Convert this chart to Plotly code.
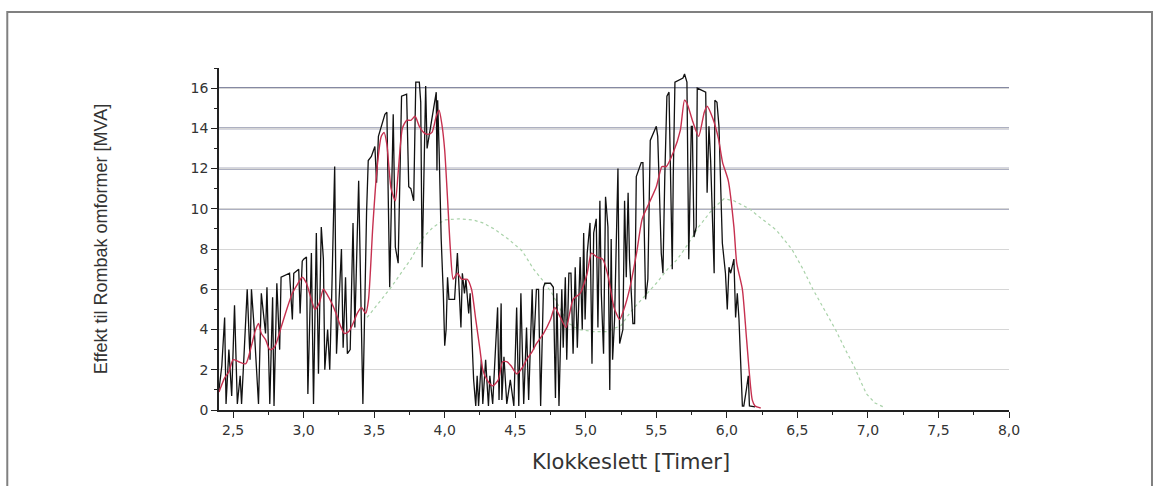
import plotly.graph_objects as go

# Measured apparent power (black), time in hours
t_meas = [2.40, 2.42, 2.44, 2.45, 2.47, 2.49, 2.51, 2.53, 2.55, 2.56, 2.58, 2.60, 2.62, 2.63, 2.65,
          2.68, 2.70, 2.73, 2.74, 2.76, 2.78, 2.79, 2.81, 2.83, 2.84, 2.90, 2.92, 2.93, 2.965, 2.975,
          2.99, 3.00, 3.02, 3.03, 3.045, 3.055, 3.07, 3.09, 3.105, 3.125, 3.14, 3.15, 3.17, 3.185, 3.20,
          3.22, 3.233, 3.25, 3.268, 3.28, 3.297, 3.31, 3.33, 3.35, 3.363, 3.39, 3.405, 3.42, 3.446, 3.458,
          3.48, 3.505, 3.517, 3.53, 3.576, 3.59, 3.61, 3.635, 3.65, 3.67, 3.694, 3.73, 3.745, 3.76, 3.78,
          3.795, 3.82, 3.83, 3.84, 3.855, 3.865, 3.875, 3.94, 3.945, 3.95, 3.96, 3.975, 3.99, 4.00, 4.01,
          4.02, 4.03, 4.07, 4.09, 4.10, 4.115, 4.125, 4.14, 4.15, 4.16, 4.17, 4.18, 4.19, 4.205, 4.22,
          4.23, 4.24, 4.26, 4.27, 4.29, 4.31, 4.32, 4.34, 4.375, 4.385, 4.40, 4.405, 4.42, 4.44, 4.465,
          4.49, 4.51, 4.525, 4.54, 4.56, 4.58, 4.595, 4.62, 4.63, 4.65, 4.665, 4.68, 4.70, 4.71, 4.75,
          4.77, 4.785, 4.795, 4.81, 4.83, 4.84, 4.855, 4.865, 4.88, 4.895, 4.91, 4.925, 4.94, 4.96, 4.975,
          4.985, 4.995, 5.01, 5.03, 5.044, 5.056, 5.074, 5.086, 5.10, 5.11, 5.126, 5.14, 5.157, 5.17, 5.18,
          5.19, 5.204, 5.228, 5.24, 5.263, 5.275, 5.287, 5.30, 5.31, 5.334, 5.346, 5.358, 5.393, 5.405, 5.424,
          5.44, 5.452, 5.457, 5.50, 5.51, 5.535, 5.547, 5.56, 5.575, 5.59, 5.60, 5.613, 5.62, 5.632, 5.689,
          5.70, 5.717, 5.73, 5.748, 5.755, 5.767, 5.783, 5.79, 5.85, 5.86, 5.873, 5.885, 5.91, 5.915, 5.93,
          5.944, 5.968, 5.99, 6.003, 6.015, 6.027, 6.05, 6.062, 6.074, 6.086, 6.11, 6.12, 6.138, 6.152, 6.16,
          6.20]
p_meas = [1.0, 2.2, 4.6, 0.3, 3.0, 0.7, 5.2, 0.3, 1.7, 0.3, 3.1, 6.0, 2.5, 6.0, 4.0,
          0.3, 5.8, 3.8, 6.1, 0.3, 5.6, 0.2, 6.3, 3.0, 6.6, 6.8, 4.5, 6.8, 7.0, 4.8,
          7.4, 7.5, 7.6, 0.8, 5.0, 7.8, 0.3, 8.8, 1.8, 9.1, 7.5, 2.0, 4.0, 2.0, 6.0,
          12.1, 2.8, 5.0, 8.0, 3.1, 6.6, 2.8, 3.0, 9.3, 4.1, 11.4, 5.8, 0.3, 9.8, 12.4,
          12.6, 13.1, 11.3, 13.6, 14.7, 14.8, 6.1, 14.7, 8.1, 7.3, 15.6, 15.7, 11.1, 11.0, 10.4,
          16.3, 16.3, 15.3, 7.1, 13.1, 16.1, 13.0, 15.8, 11.9, 15.4, 13.0, 8.5, 5.8, 3.2, 4.0,
          6.6, 5.5, 5.5, 7.8, 6.5, 4.1, 6.8, 5.8, 6.5, 5.8, 4.8, 5.8, 4.1, 1.5, 0.2,
          1.7, 0.2, 2.5, 0.3, 2.5, 0.2, 1.7, 0.3, 5.1, 0.5, 5.3, 0.5, 2.65, 0.3, 1.5,
          0.2, 5.1, 0.2, 5.8, 0.3, 4.1, 0.5, 6.0, 3.0, 6.0, 6.0, 0.2, 6.1, 6.3, 6.3,
          6.1, 0.6, 5.8, 0.2, 6.0, 3.1, 6.6, 2.5, 6.8, 6.8, 2.8, 7.1, 3.1, 7.6, 4.0,
          8.8, 4.5, 7.8, 9.3, 2.3, 8.8, 9.5, 4.1, 10.4, 5.8, 2.8, 10.6, 9.1, 1.0, 8.5,
          2.5, 4.5, 12.0, 3.3, 4.0, 10.4, 6.6, 10.8, 7.5, 4.3, 4.3, 11.6, 12.3, 12.3, 5.5,
          6.5, 10.8, 13.4, 14.1, 13.6, 7.8, 6.8, 11.6, 15.6, 15.8, 12.0, 7.0, 11.6, 16.3, 16.5,
          16.7, 16.3, 7.5, 14.1, 14.1, 8.6, 9.1, 16.0, 15.8, 10.8, 14.1, 12.4, 6.8, 15.4, 15.3,
          14.1, 8.3, 6.8, 5.0, 7.1, 6.8, 7.5, 4.6, 5.8, 4.5, 0.2, 0.2, 1.0, 1.7, 0.2,
          0.15]

# Smoothed power (red)
t_smooth = [2.40, 2.44, 2.47, 2.50, 2.54, 2.59, 2.63, 2.66, 2.68, 2.70, 2.73, 2.76, 2.79, 2.81, 2.84,
            2.88, 2.92, 2.96, 2.99, 3.02, 3.05, 3.08, 3.11, 3.14, 3.17, 3.20, 3.23, 3.26, 3.29, 3.32,
            3.35, 3.38, 3.41, 3.44, 3.46, 3.49, 3.52, 3.55, 3.57, 3.59, 3.62, 3.65, 3.67, 3.70, 3.73,
            3.76, 3.79, 3.82, 3.85, 3.88, 3.91, 3.94, 3.96, 3.98, 4.00, 4.02, 4.04, 4.06, 4.09, 4.12,
            4.16, 4.19, 4.22, 4.25, 4.27, 4.30, 4.34, 4.38, 4.41, 4.44, 4.47, 4.51, 4.55, 4.58, 4.62,
            4.65, 4.70, 4.75, 4.78, 4.82, 4.86, 4.91, 4.96, 5.01, 5.04, 5.08, 5.12, 5.16, 5.20, 5.24,
            5.27, 5.31, 5.36, 5.40, 5.45, 5.50, 5.54, 5.57, 5.62, 5.67, 5.70, 5.72, 5.76, 5.80, 5.84,
            5.86, 5.90, 5.94, 5.97, 6.01, 6.05, 6.07, 6.11, 6.14, 6.18, 6.20, 6.24]
p_smooth = [0.9, 1.6, 1.9, 2.5, 2.4, 2.3, 3.2, 4.0, 4.3, 3.8, 3.5, 3.0, 3.1, 3.4, 4.1,
            5.0, 5.8, 6.3, 6.6, 6.3, 5.6, 5.0, 5.3, 6.0, 5.7, 5.3, 4.8, 4.2, 3.8, 3.9,
            4.3, 4.8, 5.1, 4.8, 5.5, 9.1, 12.0, 13.6, 13.8, 13.2, 11.0, 10.4, 11.8, 14.0, 14.4,
            14.4, 14.6, 14.1, 13.8, 13.7, 13.8, 14.6, 14.9, 14.2, 12.9, 10.5, 8.0, 6.5, 6.8, 6.5,
            6.5, 6.0, 4.5, 3.0, 2.0, 1.5, 1.2, 1.5, 2.4, 2.4, 2.2, 1.8, 2.1, 2.5, 2.9,
            3.3, 3.8, 4.5, 5.1, 4.6, 4.1, 5.5, 5.8, 6.8, 7.8, 7.6, 7.5, 6.6, 5.1, 4.5,
            5.0, 6.0, 7.8, 9.5, 10.3, 11.1, 12.1, 12.1, 12.8, 13.9, 15.4, 15.2, 14.3, 13.6, 14.8,
            15.1, 14.5, 13.5, 12.3, 11.4, 9.1, 7.3, 6.0, 3.5, 0.5, 0.2, 0.1]

# Available capacity (green, dashed)
t_cap = [3.45, 3.55, 3.62, 3.70, 3.76, 3.85, 3.92, 4.00, 4.10, 4.20, 4.27, 4.35, 4.45, 4.55, 4.63,
         4.70, 4.76, 4.82, 4.88, 4.95, 5.05, 5.15, 5.25, 5.32, 5.40, 5.50, 5.58, 5.65, 5.72, 5.80,
         5.90, 5.98, 6.05, 6.16, 6.23, 6.35, 6.46, 6.54, 6.61, 6.70, 6.77, 6.84, 6.90, 6.95, 6.99,
         7.05, 7.11]
p_cap = [4.6, 5.5, 6.1, 6.9, 7.5, 8.6, 9.1, 9.45, 9.5, 9.45, 9.3, 9.0, 8.5, 7.9, 7.0,
         6.4, 5.8, 5.0, 4.3, 4.0, 3.9, 3.9, 4.2, 4.9, 5.5, 6.3, 7.0, 7.5, 8.2, 9.1,
         10.0, 10.5, 10.4, 10.0, 9.6, 8.95, 8.0, 7.0, 6.0, 4.9, 4.0, 3.0, 2.2, 1.4, 0.8,
         0.35, 0.15]

x_range = [2.4, 8.0]
y_range = [0, 17]
strong_grid = [10, 12, 14, 16]
x_title = "Klokkeslett [Timer]"
y_title = "Effekt til Rombak omformer [MVA]"

fig = go.Figure()
fig.add_trace(go.Scatter(x=t_cap, y=p_cap, mode="lines",
                         line=dict(color="#a9d2a9", width=1.2, dash="3px,3px")))
fig.add_trace(go.Scatter(x=t_meas, y=p_meas, mode="lines",
                         line=dict(color="#111111", width=1.3)))
fig.add_trace(go.Scatter(x=t_smooth, y=p_smooth, mode="lines",
                         line=dict(color="#c6304f", width=1.4, shape="spline", smoothing=0.6)))

# darker horizontal rules at the upper grid levels
for v in strong_grid:
    fig.add_shape(type="line", xref="paper", yref="y", x0=0, x1=1, y0=v, y1=v,
                  line=dict(color="#5d6283", width=1.6), layer="below")

# outer frame around the figure
fig.add_shape(type="rect", xref="paper", yref="paper", x0=-0.268, x1=1.181, y0=-0.4, y1=1.164,
              line=dict(color="#808080", width=2))

# x-axis caption, sitting slightly right of the plot centre
fig.add_annotation(text=x_title, xref="paper", yref="paper", x=0.522, y=-0.152,
                   xanchor="center", yanchor="middle", showarrow=False,
                   font=dict(family="DejaVu Sans, Arial, sans-serif", size=21, color="#333333"))

tick_font = dict(family="DejaVu Sans, Arial, sans-serif", size=14, color="#333333")
fig.update_layout(
    width=1161, height=486,
    margin=dict(l=219, r=152, t=68, b=76),
    paper_bgcolor="white", plot_bgcolor="white",
    showlegend=False,
    separators=", ",
    xaxis=dict(range=x_range, dtick=0.5, tick0=2.5, tickformat=".1f",
               showline=True, linecolor="#222222", linewidth=1.5,
               ticks="outside", ticklen=6, tickwidth=1.3, tickcolor="#222222",
               minor=dict(dtick=0.25, ticks="outside", ticklen=3, tickcolor="#222222"),
               showgrid=False, zeroline=False, tickfont=tick_font),
    yaxis=dict(range=y_range, dtick=2, tick0=0,
               showline=True, linecolor="#222222", linewidth=1.5,
               ticks="outside", ticklen=6, tickwidth=1.3, tickcolor="#222222",
               minor=dict(dtick=1, ticks="outside", ticklen=3, tickcolor="#222222"),
               showgrid=True, gridcolor="#d6d6d6", gridwidth=1,
               zeroline=False, tickfont=tick_font,
               title=dict(text=y_title, standoff=78,
                          font=dict(family="Liberation Sans, Arial, sans-serif", size=18, color="#333333"))),
)

fig.write_html("out.html")
